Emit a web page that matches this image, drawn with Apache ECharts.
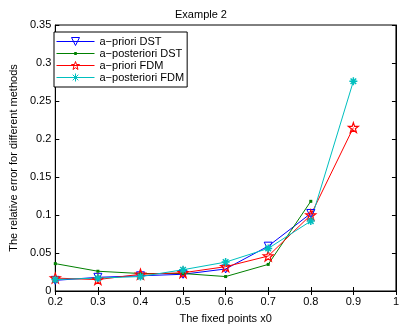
<!DOCTYPE html>
<html>
<head>
<meta charset="utf-8">
<script src="https://cdn.jsdelivr.net/npm/echarts@6/dist/echarts.min.js"></script>
<style>
html,body{margin:0;padding:0;background:#fff;}
#chart{width:402px;height:329px;}
</style>
</head>
<body>
<div id="chart"></div>
<script>
// Fixed points x0 and relative errors of each method
var xPoints = [0.2, 0.3, 0.4, 0.5, 0.6, 0.7, 0.8, 0.9];
var aprioriDST = [0.014, 0.018, 0.020, 0.022, 0.029, 0.059, 0.102];
var aposterioriDST = [0.036, 0.026, 0.023, 0.023, 0.019, 0.035, 0.118];
var aprioriFDM = [0.017, 0.015, 0.022, 0.024, 0.032, 0.046, 0.100, 0.215];
var aposterioriFDM = [0.015, 0.017, 0.019, 0.028, 0.038, 0.056, 0.092, 0.276];
var seriesNames = ['a\u2212priori DST', 'a\u2212posteriori DST', 'a\u2212priori FDM', 'a\u2212posteriori FDM'];

function pairs(vals) {
  return vals.map(function (v, i) { return [xPoints[i], v]; });
}

var FONT = '"Liberation Sans", Arial, Helvetica, sans-serif';
var starPath = 'path://M0,-10L2.35,-3.24L9.51,-3.09L3.8,1.24L5.88,8.09L0,4L-5.88,8.09L-3.8,1.24L-9.51,-3.09L-2.35,-3.24Z';
var asteriskPath = 'path://M0,-10L0,10M-10,0L10,0M-7,-7L7,7M-7,7L7,-7';
// small point marker padded by an empty frame so it stays tiny at any symbol size
var pointPath = 'path://M-6,-6M6,6M-1.5,-1.5L1.5,-1.5L1.5,1.5L-1.5,1.5Z';
var colors = ['#0000ff', '#008000', '#ff0000', '#00bfbf'];

var chart = echarts.init(document.getElementById('chart'), null, {renderer: 'canvas'});

var axisText = {color: '#000', fontFamily: FONT, fontSize: 11};

chart.setOption({
  animation: false,
  backgroundColor: '#fff',
  title: {
    text: 'Example 2',
    left: 'center',
    top: 4,
    textStyle: {color: '#000', fontFamily: FONT, fontSize: 11, fontWeight: 'normal'}
  },
  grid: {
    left: 49, right: 2, top: 25, bottom: 27,
    show: true, borderColor: '#000', borderWidth: 1, backgroundColor: '#fff'
  },
  legend: {
    orient: 'vertical',
    left: 54, top: 32,
    backgroundColor: '#fff',
    borderColor: '#000', borderWidth: 1,
    padding: [4, 3, 4, 2],
    itemWidth: 38, itemHeight: 10, itemGap: 1,
    lineStyle: {width: 1},
    itemStyle: {borderWidth: 1},
    textStyle: {color: '#000', fontFamily: FONT, fontSize: 11},
    data: seriesNames
  },
  xAxis: [{
    type: 'value', min: 0.2, max: 1, interval: 0.1,
    name: 'The fixed points x0', nameLocation: 'middle', nameGap: 22,
    nameTextStyle: axisText,
    axisLine: {show: true, onZero: false, lineStyle: {color: '#000', width: 1}},
    axisTick: {show: true, inside: true, length: 4, lineStyle: {color: '#000'}},
    axisLabel: Object.assign({margin: 5}, axisText),
    splitLine: {show: false}
  }, {
    type: 'value', min: 0.2, max: 1, interval: 0.1, position: 'top',
    axisLine: {show: true, lineStyle: {color: '#000', width: 1}},
    axisTick: {show: true, inside: true, length: 4, lineStyle: {color: '#000'}},
    axisLabel: {show: false}, splitLine: {show: false}
  }],
  yAxis: [{
    type: 'value', min: 0, max: 0.35, interval: 0.05,
    name: 'The relative error for different methods', nameLocation: 'middle', nameGap: 31,
    nameTextStyle: axisText,
    axisLine: {show: true, onZero: false, lineStyle: {color: '#000', width: 1}},
    axisTick: {show: true, inside: true, length: 4, lineStyle: {color: '#000'}},
    axisLabel: Object.assign({margin: 4}, axisText),
    splitLine: {show: false}
  }, {
    type: 'value', min: 0, max: 0.35, interval: 0.05, position: 'right',
    axisLine: {show: true, lineStyle: {color: '#000', width: 1}},
    axisTick: {show: true, inside: true, length: 4, lineStyle: {color: '#000'}},
    axisLabel: {show: false}, splitLine: {show: false}
  }],
  series: [{
    name: seriesNames[0], type: 'line', data: pairs(aprioriDST),
    symbol: 'triangle', symbolRotate: 180, symbolSize: 8, showAllSymbol: true,
    lineStyle: {color: colors[0], width: 1},
    itemStyle: {color: 'rgba(255,255,255,0)', borderColor: colors[0], borderWidth: 1}
  }, {
    name: seriesNames[1], type: 'line', data: pairs(aposterioriDST),
    symbol: pointPath, symbolSize: 12, showAllSymbol: true,
    lineStyle: {color: colors[1], width: 1},
    itemStyle: {color: colors[1], borderColor: colors[1], borderWidth: 0}
  }, {
    name: seriesNames[2], type: 'line', data: pairs(aprioriFDM),
    symbol: starPath, symbolSize: 10, showAllSymbol: true,
    lineStyle: {color: colors[2], width: 1},
    itemStyle: {color: 'rgba(255,255,255,0)', borderColor: colors[2], borderWidth: 1.2}
  }, {
    name: seriesNames[3], type: 'line', data: pairs(aposterioriFDM),
    symbol: asteriskPath, symbolSize: 8, showAllSymbol: true,
    lineStyle: {color: colors[3], width: 1},
    itemStyle: {color: colors[3], borderColor: colors[3], borderWidth: 1.5}
  }]
});
</script>
</body>
</html>
